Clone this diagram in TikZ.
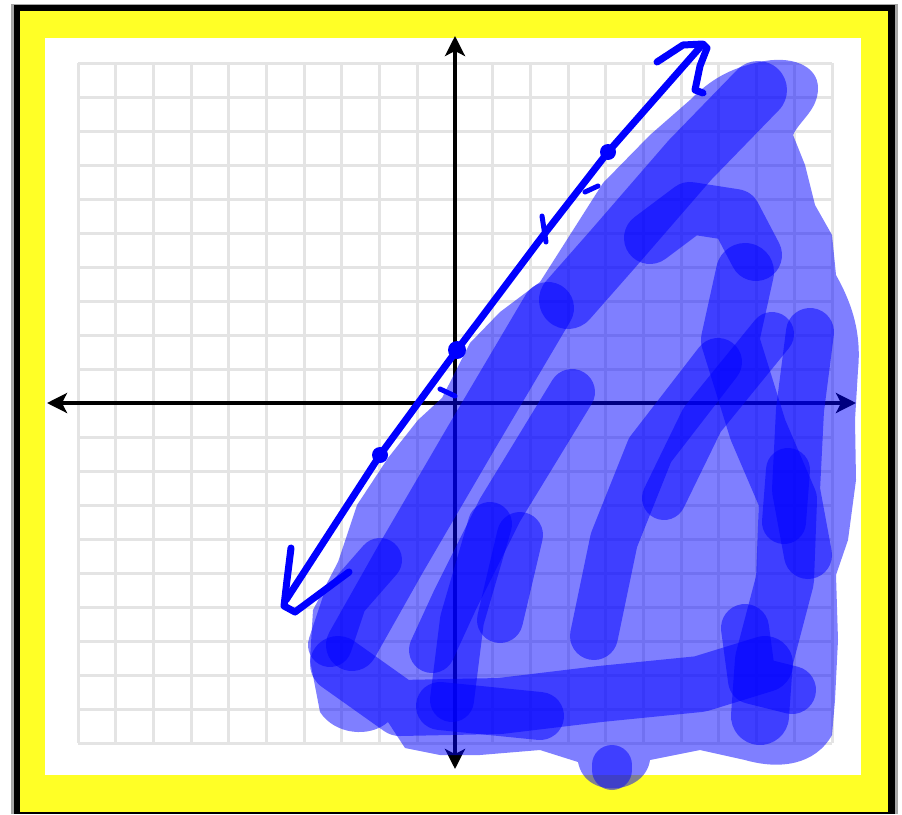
\documentclass[tikz,border=0pt]{standalone}
\usetikzlibrary{arrows.meta}
\definecolor{frameyellow}{RGB}{255,255,38}
\definecolor{gridgray}{RGB}{228,228,228}
\definecolor{penblue}{RGB}{0,0,255}
\tikzset{
  gridline/.style={draw=gridgray,line width=3pt},
  axisline/.style={draw=black,line width=3.5pt,{Stealth[length=20pt,width=20pt,inset=5pt]}-{Stealth[length=20pt,width=20pt,inset=5pt]}},
  penline/.style={draw=penblue,line width=7pt,line cap=round,line join=round},
  hilite/.style={draw=penblue,opacity=0.5,line cap=round,line join=round},
  hilitefill/.style={fill=penblue,opacity=0.5},
  dotmark/.style={fill=penblue}
}
\begin{document}
\begin{tikzpicture}[x=1pt,y=-1pt]
\useasboundingbox (0,0) rectangle (902,814);
% frame
\fill[white] (0,0) rectangle (902,814);
\fill[gray!70] (11,4) rectangle (898,814);
\fill[black] (14,5) rectangle (895,814);
\fill[frameyellow] (20,11) rectangle (888,812);
\fill[white] (45,38) rectangle (861,775);
% grid
\foreach \i in {0,...,20} {
  \draw[gridline] ({78+\i*37.7},63) -- ({78+\i*37.7},743);
  \draw[gridline] (78,{63+\i*34}) -- (832,{63+\i*34});
}
% axes
\coordinate (xl) at (47,403);
\coordinate (xr) at (856,403);
\coordinate (yt) at (455,36);
\coordinate (yb) at (455,769);
\draw[axisline] (xl) -- (xr);
\draw[axisline] (yt) -- (yb);
% pen line
\coordinate (p0) at (286,600);
\coordinate (p1) at (380,455);
\coordinate (p2) at (457,350);
\coordinate (p3) at (542,237);
\coordinate (p4) at (608,152);
\coordinate (p5) at (702,45);
\draw[penline] (p0) -- (p1) -- (p2) -- (p3) -- (p4) -- (p5);
% top arrow
\draw[penline] (657,62) -- (683,45) -- (703,44) -- (707,48) -- (700,66) -- (695,90) -- (703,93);
% bottom arrow
\draw[penline] (291,548) -- (287,580) -- (284,606) -- (295,612) -- (349,572);
% dots and ticks
\fill[dotmark] (p1) circle (8);
\fill[dotmark] (p2) circle (9);
\fill[dotmark] (p4) circle (8);
\draw[penline,line width=5pt] (542,216) -- (546,242);
\draw[penline,line width=5pt] (585,192) -- (598,186);
\draw[penline,line width=5pt] (440,389) -- (455,396);
% shaded region: base
\fill[hilitefill] (442,398) -- (470,343) -- (500,312) -- (540,282) -- (603,183) -- (650,135) -- (690,100)
  .. controls (710,80) and (730,68) .. (760,62)
  .. controls (790,55) and (818,65) .. (818,88)
  .. controls (818,110) and (800,120) .. (793,135)
  -- (805,165) -- (815,205) -- (832,235) -- (836,275)
  .. controls (850,300) and (862,330) .. (858,370)
  -- (855,420) -- (856,480) -- (848,540) -- (836,575)
  -- (838,640) -- (835,700) -- (832,735)
  .. controls (815,765) and (780,770) .. (745,760)
  -- (700,750) -- (650,760)
  .. controls (645,795) and (585,800) .. (578,762)
  -- (540,750) -- (480,755) -- (440,755) -- (405,748) -- (388,722)
  .. controls (370,738) and (335,735) .. (320,712)
  -- (310,660) -- (313,610) -- (338,562) -- (357,505) -- (388,458) -- (418,420) -- cycle;
% shaded region: strokes
\draw[hilite,line width=52pt] (548,308) -- (470,440) -- (400,560) -- (352,645);
\draw[hilite,line width=46pt] (572,392) -- (500,510) -- (455,600) -- (432,650);
\draw[hilite,line width=58pt] (758,90) -- (690,160) -- (612,250) -- (568,300);
\draw[hilite,line width=52pt] (650,238) -- (690,208) -- (735,215) -- (756,255);
\draw[hilite,line width=58pt] (745,272) -- (730,340) -- (758,430) -- (788,500) -- (785,580) -- (764,660) -- (760,716);
\draw[hilite,line width=48pt] (810,332) -- (800,410) -- (796,490) -- (808,555);
\draw[hilite,line width=56pt] (338,664) -- (400,708) -- (500,706) -- (600,694) -- (700,684) -- (765,664);
\draw[hilite,line width=48pt] (718,362) -- (650,450) -- (614,540) -- (594,636);
\draw[hilite,line width=44pt] (772,334) -- (702,420) -- (664,498);
\draw[hilite,line width=44pt] (490,524) -- (462,620) -- (452,700);
\draw[hilite,line width=44pt] (788,470) -- (784,522);
\draw[hilite,line width=48pt] (745,628) -- (752,680) -- (792,690);
\draw[hilite,line width=48pt] (440,706) -- (540,716);
\draw[hilite,line width=44pt] (330,645) -- (345,600) -- (380,560);
\draw[hilite,line width=46pt] (520,535) -- (500,620);
\draw[hilite,line width=40pt] (612,765) -- (612,770);
\end{tikzpicture}
\end{document}
